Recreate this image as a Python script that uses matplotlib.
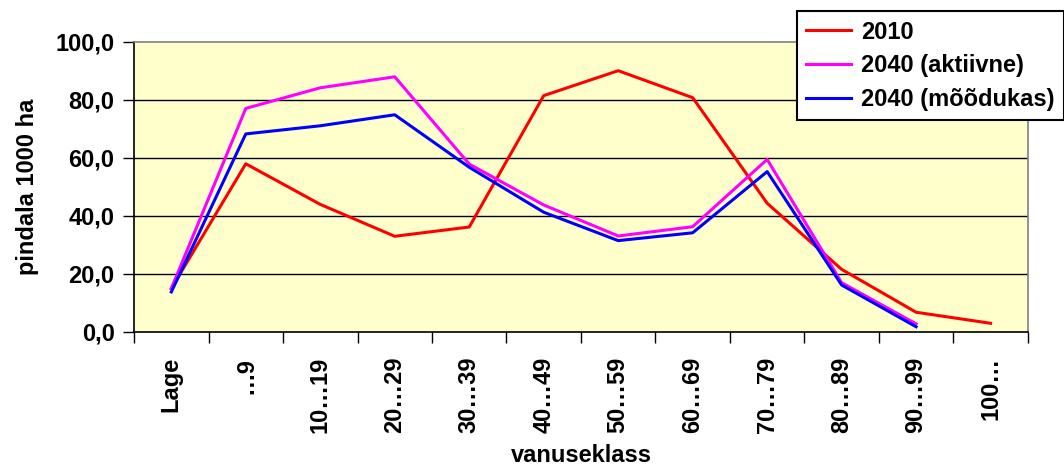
import numpy as np
import matplotlib.pyplot as plt
from matplotlib.ticker import FixedLocator, FuncFormatter

plt.rcParams['font.family'] = ['Liberation Sans', 'DejaVu Sans']
plt.rcParams['font.weight'] = 'bold'
plt.rcParams['axes.labelweight'] = 'bold'

# age classes
categories = ["Lage", "…9", "10…19", "20…29", "30…39", "40…49",
              "50…59", "60…69", "70…79", "80…89", "90…99", "100…"]

# area, 1000 ha
s2010 = [15.0, 58.0, 44.0, 33.0, 36.2, 81.5, 90.1, 80.8, 44.4, 21.6, 6.8, 3.0]
s2040_akt = [15.0, 77.1, 84.2, 88.0, 57.9, 43.8, 33.1, 36.3, 59.5, 17.0, 2.8]
s2040_mood = [13.8, 68.3, 71.1, 74.9, 56.8, 41.3, 31.5, 34.2, 55.3, 16.2, 1.8]

fig = plt.figure(figsize=(10.64, 4.66), dpi=100)
ax = fig.add_axes([0.126, 0.2876, 0.840, 0.6223])
ax.set_facecolor('#FFFFCC')

x = np.arange(len(categories))
ax.plot(x, s2010, color='#FF0000', lw=2.2, label='2010', zorder=3)
ax.plot(x[:len(s2040_akt)], s2040_akt, color='#FF00FF', lw=2.2, label='2040 (aktiivne)', zorder=3)
ax.plot(x[:len(s2040_mood)], s2040_mood, color='#0000FF', lw=2.2, label='2040 (mõõdukas)', zorder=3)

ax.set_xlim(-0.5, len(categories) - 0.5)
ax.set_ylim(0, 100)
ax.set_yticks(np.arange(0, 101, 20))
ax.yaxis.set_major_formatter(FuncFormatter(lambda v, p: f"{v:.1f}".replace('.', ',')))
for yv in [20, 40, 60, 80]:
    ax.axhline(yv, color='black', lw=1, zorder=1)

ax.set_xticks(x)
ax.set_xticklabels(categories, rotation=90, va='top', ha='center')
ax.xaxis.set_minor_locator(FixedLocator(np.arange(-0.5, len(categories), 1)))
ax.tick_params(axis='x', which='major', length=0, pad=18, labelsize=17)
ax.tick_params(axis='x', which='minor', length=8, width=1, color='black')
ax.tick_params(axis='y', length=8, width=1, labelsize=17, pad=6)

for s in ['top', 'right']:
    ax.spines[s].set_color('#808080')
    ax.spines[s].set_linewidth(1.2)
for s in ['left', 'bottom']:
    ax.spines[s].set_color('black')
    ax.spines[s].set_linewidth(1.2)

ax.set_ylabel('pindala 1000 ha', fontsize=17, labelpad=12)
ax.set_xlabel('vanuseklass', fontsize=17)
ax.xaxis.set_label_coords(0.5, -0.385)

leg = ax.legend(loc='upper left', bbox_to_anchor=(0.749, 0.976),
                bbox_transform=fig.transFigure, fontsize=17, frameon=True,
                fancybox=False, framealpha=1, edgecolor='black',
                handlelength=1.9, handletextpad=0.4, borderpad=0.4,
                labelspacing=0.45, borderaxespad=0)
leg.get_frame().set_linewidth(1.5)
leg.set_zorder(5)

fig.savefig('out.png', dpi=100)
